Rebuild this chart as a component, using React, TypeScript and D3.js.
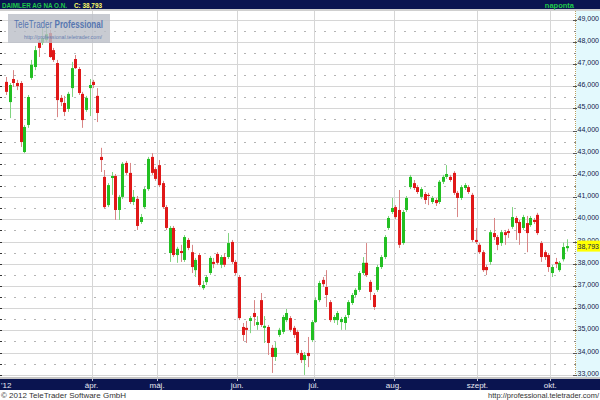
import React from "react";
import * as d3 from "d3";

// ---- data ----
const opens = [46190,45280,46320,46140,46140,43030,44250,46370,46860,47990,47940,48080,48390,47620,47040,45470,45240,44970,45910,47220,46770,45650,44930,45910,46190,45560,42810,41910,40640,41860,41950,40420,41010,42540,42090,40780,40920,39880,40550,41360,42810,42260,42440,41630,40550,38480,39610,38390,38570,38170,39070,38520,37710,38390,36900,37170,37580,38080,38440,37950,38300,38300,38980,38080,37400,35150,35110,35420,35780,35240,36360,35110,35150,34210,33800,34790,34930,35460,35550,35110,34930,33980,33660,33980,34560,35370,36360,37270,36950,36270,35460,35460,35370,35330,35690,36230,36590,36820,37580,38040,37180,36590,36820,37850,38300,39610,40330,40550,40420,38930,40420,41450,41630,41450,41010,41140,41100,40780,40870,40780,41690,41910,41910,42090,41190,40960,41410,41450,41100,39070,38850,38520,37850,38080,39380,39200,38930,39420,39470,39660,40060,39880,39610,39830,39740,39970,40200,38930,38520,38390,37580,38080,37710,38200,38700];
const highs = [46410,46140,46720,46280,46230,44250,45600,47180,47810,48080,48620,48750,48530,47720,47180,45600,45560,45740,47090,47400,46860,45740,45560,46320,46280,45910,43220,42220,41630,42130,42040,41100,42580,42630,42540,41320,41050,40240,41450,42810,42980,42350,42670,41730,40640,39700,39700,38760,38850,39290,39160,38850,38260,38480,37230,37490,38350,38260,38520,38390,38480,39380,39070,38170,37490,35330,35420,35640,36360,35640,36680,35640,35240,34340,34470,35110,35690,35960,35640,35200,35020,34110,34020,34700,35460,36460,37230,37400,37710,36360,35690,35870,35600,35690,36360,36680,36900,37670,38300,38930,37270,36680,37950,38390,39290,40150,40960,40640,41320,40420,41050,42000,41770,41540,41450,41230,41190,41050,40960,41770,42000,42440,42000,42170,41280,41540,41630,41540,41190,39610,38930,38610,37950,39520,40060,39290,39520,39520,39570,40550,40150,39970,40200,40150,40150,40060,40290,39020,38610,38480,37950,38260,38120,38950,39100];
const lows = [45600,44560,45960,45820,43260,42980,44120,46280,46720,47310,47850,47990,47270,47090,44600,45100,44650,44840,45510,46770,45600,44120,44840,44650,45910,44380,42130,40470,40550,41100,39970,39970,40920,42000,40690,40640,39520,39790,40470,41280,42000,41730,41450,40470,39520,38080,38300,38040,38080,38080,38610,37580,37400,36950,36820,37040,37490,37800,37950,37800,37850,38210,37990,37490,35460,34520,34430,34870,35200,35020,35150,34430,33890,33080,33620,34700,34830,35370,34930,34650,33890,33530,32990,33340,34470,35330,36270,36950,36050,35370,35330,35240,35020,35020,35550,36140,36500,36730,37490,37400,36360,35920,36730,37760,38210,39520,40240,40010,38710,38850,40330,41360,41320,41140,40920,40690,40640,40690,40600,40690,41590,41820,41690,41100,40100,40870,41320,41140,38980,38890,38440,37630,37490,37950,39070,38610,38800,38850,39160,39570,39070,38850,39520,38520,39660,39790,39290,38080,38170,37630,37400,37800,37630,38100,38550];
const closes = [45740,46050,46140,46000,43480,44160,45510,46960,47620,47720,48170,48340,47310,47180,45370,45280,44840,45650,46810,46810,45690,44470,45470,46050,46050,44790,42670,40550,41540,41950,40420,41010,42500,42090,40780,41010,39700,40100,41360,42720,42090,41820,41540,40550,39610,39610,38390,38670,38480,39200,38710,37850,38170,37040,37040,37400,38260,37990,38040,38300,37950,38930,38080,37580,35550,34790,35020,35550,35600,35370,35240,35200,34430,33800,34210,35020,35600,35780,35020,34790,33980,33660,33890,33840,35370,36360,37130,37080,36590,35460,35600,35780,35510,35600,36270,36590,36820,37580,38040,37490,36730,36050,37850,38300,39200,40060,40510,40100,38850,40330,40960,41910,41410,41230,41360,40870,41050,40960,40730,41690,41910,42040,41770,41190,40960,41450,41540,41230,39070,38980,38520,37710,37710,39420,39200,38850,39420,39290,39380,40100,39830,39380,40100,39380,40060,39880,39380,38300,38300,37850,37850,37990,38040,38750,38793];

const yTickValues = [33000,34000,35000,36000,37000,38000,39000,40000,41000,42000,43000,44000,45000,46000,47000,48000,49000];
const yHalfValues = [33500,34500,35500,36500,37500,38500,39500,40500,41500,42500,43500,44500,45500,46500,47500,48500];
const monthLabels = ["ápr.", "máj.", "jún.", "júl.", "aug.", "szept.", "okt."];
const monthStartIndex = [24, 42, 64, 85, 107, 130, 150];
const yearLabel = "'12";
const title = "DAIMLER AG NA O.N.";
const lastLabel = "C: 38,793";
const periodLabel = "naponta";
const lastPrice = 38793;

const NAVY = "#0a1450";
const GREEN = "#22bf22";
const RED = "#e01818";
const GREEN_WICK = "#7fd47f";
const RED_WICK = "#d98686";

export default function App() {
  const W = 600, H = 400;
  const plotL = 0, plotR = 575, plotT = 11, plotB = 377;
  const n = closes.length;
  const x = d3.scaleLinear().domain([0, n - 1]).range([6, 6 + 3.64 * (n - 1)]);
  const step = x(1) - x(0);
  const y = d3.scaleLinear().domain([33000, 49000]).range([374.7, 19.5]);
  const fmt = d3.format(",.0f");
  const crisp = (v: number) => Math.round(v) + 0.5;

  const candles = d3.range(n).map((i) => {
    const o = opens[i], c = closes[i], hi = highs[i], lo = lows[i];
    const up = c >= o;
    const cx = Math.round(x(i));
    const yTop = y(Math.max(o, c));
    const yBot = y(Math.min(o, c));
    const bh = Math.max(1, yBot - yTop);
    return (
      <g key={i}>
        <line x1={cx + 0.5} x2={cx + 0.5} y1={y(hi)} y2={y(lo)} stroke={up ? GREEN_WICK : RED_WICK} strokeWidth={1} />
        <rect x={cx - 1} y={yTop} width={3} height={bh} fill={up ? GREEN : RED} />
      </g>
    );
  });

  return (
    <svg width={W} height={H} style={{ position: "absolute", left: 0, top: 0, fontFamily: "'Liberation Sans', Arial, sans-serif" }}>
      <defs>
        <clipPath id="plotClip">
          <rect x={plotL} y={plotT} width={plotR - plotL} height={plotB - plotT} />
        </clipPath>
      </defs>
      <rect x={0} y={0} width={W} height={H} fill="#ffffff" />
      {/* right axis panel */}
      <rect x={576} y={plotT} width={24} height={plotB - plotT + 2} fill="#e3f9fd" />

      {/* grid */}
      <g clipPath="url(#plotClip)">
        {yTickValues.map((v) => (
          <line key={"g" + v} x1={plotL} x2={plotR} y1={crisp(y(v))} y2={crisp(y(v))} stroke="#d6d6d6" strokeWidth={1} />
        ))}
        {yHalfValues.map((v) => (
          <line key={"h" + v} x1={plotL + 4} x2={plotR} y1={crisp(y(v))} y2={crisp(y(v))} stroke="#b4b4b4" strokeWidth={1} strokeDasharray="2,8" />
        ))}
        {monthStartIndex.map((idx) => (
          <line key={"v" + idx} x1={crisp(x(idx) - step / 2)} x2={crisp(x(idx) - step / 2)} y1={plotT} y2={plotB} stroke="#d6d6d6" strokeWidth={1} />
        ))}
        {candles}
      </g>

      {/* left edge ticks */}
      {yTickValues.concat(yHalfValues).map((v) => (
        <line key={"lt" + v} x1={0} x2={2} y1={crisp(y(v))} y2={crisp(y(v))} stroke="#333" strokeWidth={1} />
      ))}

      {/* logo */}
      <rect x={8} y={14} width={102} height={29} fill="#bcc0c8" opacity={0.82} />
      <text x={14} y={28} fontSize={10.5} fill="#5676b0" textLength={89} lengthAdjust="spacingAndGlyphs">
        TeleTrader <tspan fontWeight="bold">Professional</tspan>
      </text>
      <text x={24} y={38.5} fontSize={6} fill="#6a7fb0" textLength={78} lengthAdjust="spacingAndGlyphs">
        http://professional.teletrader.com/
      </text>

      {/* header */}
      <rect x={0} y={0} width={W} height={9} fill={NAVY} />
      <rect x={0} y={9} width={W} height={2} fill="#cfcfcf" />
      <text x={2} y={7.5} fontSize={7} fontWeight="bold" fill="#1fc94a" textLength={65} lengthAdjust="spacingAndGlyphs">{title}</text>
      <text x={74} y={7.5} fontSize={7.5} fontWeight="bold" fill="#ffff66" textLength={28} lengthAdjust="spacingAndGlyphs">{lastLabel}</text>
      <text x={574} y={7.5} fontSize={7.5} fontWeight="bold" fill="#1fc94a" textAnchor="end">{periodLabel}</text>

      {/* right axis */}
      <line x1={575.5} x2={575.5} y1={plotT} y2={plotB} stroke="#b8a060" strokeWidth={1} strokeDasharray="1,1" />
      {yHalfValues.map((v) => (
        <line key={"yh" + v} x1={574} x2={576} y1={crisp(y(v))} y2={crisp(y(v))} stroke="#888" strokeWidth={1} />
      ))}
      {yTickValues.map((v) => (
        <g key={"yt" + v}>
          <line x1={573} x2={577} y1={crisp(y(v))} y2={crisp(y(v))} stroke="#555" strokeWidth={1} />
          <text x={577.5} y={y(v) + 1} fontSize={7.2} fill="#10204a" textLength={21.5} lengthAdjust="spacingAndGlyphs">{fmt(v)}</text>
        </g>
      ))}
      {/* last price box (covers most of the 39,000 label, as in the reference) */}
      <rect x={577} y={y(lastPrice) - 5.5} width={23} height={11} fill="#ffff00" />
      <text x={577.5} y={y(lastPrice) + 3} fontSize={7.2} fill="#10204a" textLength={21.5} lengthAdjust="spacingAndGlyphs">{fmt(lastPrice)}</text>

      {/* x axis band */}
      <rect x={0} y={377} width={W} height={2} fill="#c4c4c4" />
      <rect x={0} y={379} width={W} height={11} fill={NAVY} />
      <text x={1} y={387.5} fontSize={8} fill="#e8e8f0">{yearLabel}</text>
      {monthStartIndex.map((idx, k) => {
        const tx = x(idx) - step / 2;
        return (
          <g key={"xl" + idx}>
            <line x1={crisp(tx)} x2={crisp(tx)} y1={379} y2={381} stroke="#c8c8d8" strokeWidth={1} />
            <text x={tx} y={387.5} fontSize={8} fill="#e8e8f0" textAnchor="middle">{monthLabels[k]}</text>
          </g>
        );
      })}

      {/* footer */}
      <text x={1} y={398} fontSize={8} fill="#333">© 2012 TeleTrader Software GmbH</text>
      <text x={599} y={398} fontSize={7.5} fill="#333" textAnchor="end">http://professional.teletrader.com/</text>
    </svg>
  );
}
